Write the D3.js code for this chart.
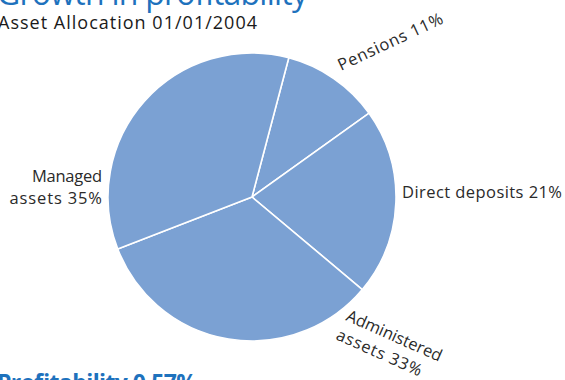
<!DOCTYPE html>
<html>
<head>
<meta charset="utf-8">
<script src="https://cdn.jsdelivr.net/npm/d3@7"></script>
<style>
  html, body { margin: 0; padding: 0; background: #fff; }
  svg { display: block; font-family: "Open Sans", "Liberation Sans", Arial, sans-serif; }
</style>
</head>
<body>
<svg id="chart" width="565" height="380"></svg>
<script>
// Asset allocation at 01/01/2004 (percent of total)
const categories = ["Pensions", "Direct deposits", "Administered assets", "Managed assets"];
const shares = [11, 21, 33, 35];
const labelLines = [
  ["Pensions 11%"],
  ["Direct deposits 21%"],
  ["Administered", "assets 33%"],
  ["Managed", "assets 35%"]
];

const svg = d3.select("#chart");
const cx = 252, cy = 197, r = 144;
const fill = "#7ba1d3";
const blue = "#1e72bd";

// Helper: text stretched to a given run length
function fitText(sel, len) {
  sel.attr("textLength", len).attr("lengthAdjust", "spacing");
  return sel;
}

// Section heading, partially above the frame
fitText(svg.append("text")
  .attr("x", -3).attr("y", 5)
  .attr("fill", blue)
  .attr("font-size", 32)
  .text("Growth in profitability"), 311);

fitText(svg.append("text")
  .attr("x", -2).attr("y", 29)
  .attr("fill", "#1a1a1a")
  .attr("font-size", 18)
  .text("Asset Allocation 01/01/2004"), 259);

const startA = 14.8 * Math.PI / 180;
const pie = d3.pie().sort(null)
  .startAngle(startA).endAngle(startA + 2 * Math.PI)
  .value(d => d.v);
const arcs = pie(categories.map((c, i) => ({ c, v: shares[i], lines: labelLines[i] })));
const arc = d3.arc().innerRadius(0).outerRadius(r);

const g = svg.append("g").attr("transform", `translate(${cx},${cy})`);
g.selectAll("path").data(arcs).join("path")
  .attr("d", arc)
  .attr("fill", fill)
  .attr("stroke", "#fff")
  .attr("stroke-width", 1.6)
  .attr("stroke-linejoin", "round");

// Label placement per slice: anchor relative to the pie centre, rotation,
// alignment, line gap / indent and run length of each line
const place = {
  "Pensions":            { x: 89,   y: -126, rot: -25, anchor: "start", dx: 0,    gap: 0,    len: [114] },
  "Direct deposits":     { x: 150,  y: 0.5,  rot: 0,   anchor: "start", dx: 0,    gap: 0,    len: [160] },
  "Administered assets": { x: 93,   y: 123,  rot: 24,  anchor: "start", dx: -1.5, gap: 21.5, len: [103, 92] },
  "Managed assets":      { x: -150, y: -15,  rot: 0,   anchor: "end",   dx: 0,    gap: 21.5, len: [70, 92.5] }
};

arcs.forEach(a => {
  const p = place[a.data.c];
  const t = g.append("text")
    .attr("transform", `translate(${p.x},${p.y}) rotate(${p.rot})`)
    .attr("text-anchor", p.anchor)
    .attr("fill", "#2a2a2a")
    .attr("font-size", 16.5);
  a.data.lines.forEach((ln, i) => {
    fitText(t.append("tspan")
      .attr("x", i === 0 ? 0 : p.dx)
      .attr("y", i * p.gap)
      .text(ln), p.len[i]);
  });
});

// Next section heading, partially below the frame
fitText(svg.append("text")
  .attr("x", -3).attr("y", 391)
  .attr("fill", blue)
  .attr("font-size", 23)
  .attr("font-weight", "bold")
  .text("Profitability 0.57%"), 200);
</script>
</body>
</html>
